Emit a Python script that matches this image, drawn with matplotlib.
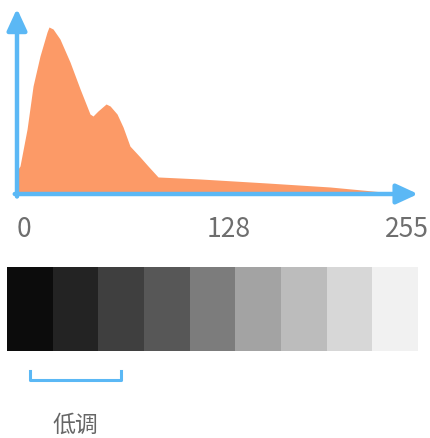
import numpy as np
import matplotlib
matplotlib.use('Agg')
from matplotlib import pyplot as plt

plt.rcParams['font.family'] = ['Noto Sans CJK SC', 'DejaVu Sans']

# histogram outline, tone level (0-255) vs relative count (0-100)
levels = [0, 0.7, 2, 6.7, 10.7, 15.3, 20, 21.3, 24, 28.6, 35.3, 42, 48.6, 50.6,
          53.9, 59.3, 62, 66.6, 70.6, 75.2, 81.9, 87.2, 93.9, 121.8, 166.4, 208.4, 243.7]
counts = [0, 15, 16.8, 38.9, 64.7, 82.6, 97, 100, 98.8, 92.8, 79, 62.9, 47.9, 46.7,
          49.7, 53.9, 52.7, 47.9, 40.1, 28.7, 22.2, 16.8, 10.2, 9, 6.6, 4.2, 1.2]

tick_labels = ['0', '128', '255']
grays = ['#0c0c0c', '#232323', '#3f3f3f', '#575757', '#7c7c7c',
         '#a3a3a3', '#bcbcbc', '#d7d7d7', '#f1f1f1']
zone_label = '低调'
zone_start, zone_end = 0, 2   # bracket spans these gray blocks

W, H = 430, 439
fig = plt.figure(figsize=(W / 100, H / 100), dpi=100)

orange = '#fc9a67'
blue = '#5bb8f5'
text_gray = '#6e6e6e'

###---------------###
### HISTOGRAM     ###
###---------------###
ax = fig.add_axes([17 / W, 244 / H, 383 / W, 167 / H])
ax.set_xlim(0, 255)
ax.set_ylim(0, 100)
ax.axis('off')
ax.fill_between(levels, counts, 0, color=orange, lw=0, clip_on=False)

arrow = dict(arrowstyle='-|>,head_length=13,head_width=6', color=blue, lw=3.2,
             shrinkA=0, shrinkB=0, mutation_scale=1)
ax.annotate('', xy=(267, 0), xytext=(-1.5, 0), arrowprops=arrow, annotation_clip=False)
ax.annotate('', xy=(0, 111), xytext=(0, -1.5), arrowprops=arrow, annotation_clip=False)

# tick labels under the axis
for lab, px in zip(tick_labels, [24, 229, 407]):
    fig.text(px / W, 1 - 229.5 / H, lab, ha='center', va='center',
             fontsize=19, color=text_gray)

###---------------###
### GRAY STRIP    ###
###---------------###
gx = fig.add_axes([7 / W, 87 / H, 411 / W, 84 / H])
gx.bar(np.arange(len(grays)), 1, width=1, color=grays, lw=0)
gx.set_xlim(-0.5, len(grays) - 0.5)
gx.set_ylim(0, 1)
gx.axis('off')

gx.plot([zone_start, zone_start, zone_end, zone_end], [-0.238, -0.345, -0.345, -0.238],
        color=blue, lw=2.2, clip_on=False, solid_joinstyle='round')
gx.text((zone_start + zone_end) / 2, -0.87, zone_label, ha='center', va='center',
        fontsize=16.5, color='#666666')

fig.savefig('out.png', dpi=100)
